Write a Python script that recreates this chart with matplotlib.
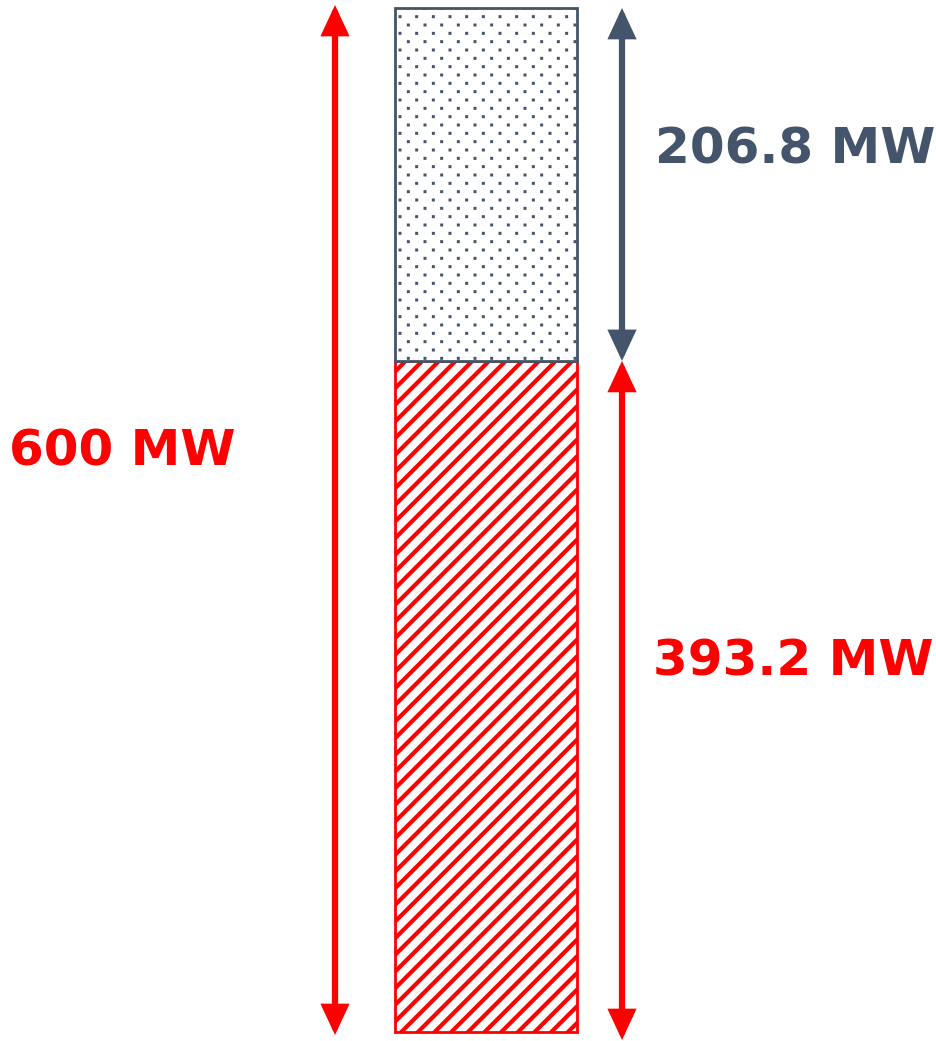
import matplotlib.pyplot as plt
import matplotlib as mpl
import matplotlib.hatch as mhatch
from matplotlib.path import Path
import numpy as np

total = 600
parts = [393.2, 206.8]
labels = ["393.2 MW", "206.8 MW"]
total_label = "600 MW"

red = "#FF0000"
slate = "#44546A"


# fine stipple for '.': columns every 1/n, staggered rows every 1/(2n)
class Stipple(mhatch.HatchPatternBase):
    def __init__(self, hatch, density):
        n = hatch.count('.') * density
        self.pts = []
        if n:
            for r in range(2 * n + 1):
                xs = np.arange(n + 1) / n if r % 2 == 0 else (np.arange(n) + 0.5) / n
                self.pts += [(x, r / (2 * n)) for x in xs]
        self.num_vertices = 5 * len(self.pts)

    def set_vertices_and_codes(self, vertices, codes):
        sq = np.array([[-1, -1], [1, -1], [1, 1], [-1, 1], [-1, -1]]) * 0.008
        for i, p in enumerate(self.pts):
            vertices[5 * i:5 * i + 5] = sq + p
            codes[5 * i] = Path.MOVETO
            codes[5 * i + 1:5 * i + 4] = Path.LINETO
            codes[5 * i + 4] = Path.CLOSEPOLY


mhatch._hatch_types = [Stipple if c is mhatch.SmallFilledCircles else c
                       for c in mhatch._hatch_types]

fig = plt.figure(figsize=(9.37, 10.41), dpi=100)
ax = fig.add_axes([0, 0, 1, 1])
ax.set_xlim(0, 937)
# y in MW, padded so 0..600 spans the drawn height
px = total / 1024
ax.set_ylim(-9 * px, total + 8 * px)
ax.axis('off')

# stacked column
mpl.rcParams['hatch.linewidth'] = 3.0
ax.bar(486, parts[0], width=182, bottom=0, color='white', edgecolor=red,
       hatch='//', linewidth=2)
mpl.rcParams['hatch.linewidth'] = 1.0
ax.bar(486, parts[1], width=182, bottom=parts[0], color='white', edgecolor=slate,
       hatch='.', linewidth=2)

arrow = dict(arrowstyle='<|-|>,head_length=1.5,head_width=0.7', lw=4.5,
             shrinkA=0, shrinkB=0, mutation_scale=10, joinstyle='miter')

# total span
ax.annotate('', xy=(335, total + 3 * px), xytext=(335, -3 * px),
            arrowprops=dict(arrow, color=red))
# upper segment
ax.annotate('', xy=(622, total), xytext=(622, parts[0]),
            arrowprops=dict(arrow, color=slate))
# lower segment
ax.annotate('', xy=(622, parts[0]), xytext=(622, -8 * px),
            arrowprops=dict(arrow, color=red))

font = dict(family='DejaVu Sans', fontweight='bold', fontsize=36, va='center')
tr = ax.get_xaxis_transform()
ax.text(9, 1 - 452 / 1041, total_label, color=red, ha='left', transform=tr, **font)
ax.text(795, 1 - 150 / 1041, labels[1], color=slate, ha='center', transform=tr, **font)
ax.text(793, 1 - 662 / 1041, labels[0], color=red, ha='center', transform=tr, **font)

fig.savefig('out.png', dpi=100)
